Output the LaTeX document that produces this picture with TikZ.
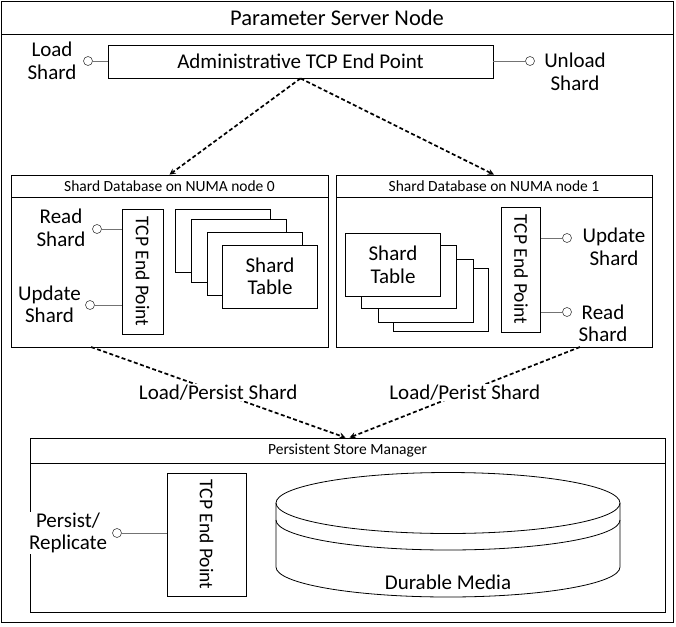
\documentclass[tikz,border=0pt]{standalone}
\usepackage{fontspec}
\setmainfont{Carlito}
\usepackage{tikz}
\usetikzlibrary{calc}

\begin{document}
\begin{tikzpicture}[
        x=1pt, y=-1pt,                % pixel-like coordinates, y down
        >=stealth,
        box/.style={draw, rectangle, inner sep=0pt, line width=0.8pt},
        card/.style={box, fill=white, minimum width=95, minimum height=63},
        big/.style={font=\fontsize{21}{22.5}\selectfont},
        small/.style={font=\fontsize{15.5}{18}\selectfont},
        lbl/.style={big, align=center, inner sep=1pt},
        tcp/.style={box, font=\fontsize{19.5}{22}\selectfont},
        port/.style={circle, draw=black!75, fill=white, minimum size=9, inner sep=0pt, line width=0.6pt},
        wire/.style={draw=black!55, line width=0.9pt},
        flow/.style={->, dash pattern=on 4pt off 2.5pt, line width=1.7pt}
    ]
        \useasboundingbox (0,0) rectangle (676,626);

        % server frame
        \node (psn) [box, minimum width=672, minimum height=621] at (337,311.5) {};
        \node (psnT) [box, minimum width=672, minimum height=33, font=\fontsize{22.5}{26}\selectfont] at (337,17.5) {Parameter Server Node};

        % admin end point
        \node (adm) [box, big, minimum width=385, minimum height=33] at (300.5,61.5) {Administrative TCP End Point};
        \node (pLoad) [port] at (88,61) {};
        \node (pUnload) [port] at (530,61) {};
        \node (tLoad) [lbl] at (52,61) {Load\\Shard};
        \node (tUnload) [lbl] at (575,72) {Unload\\Shard};
        \draw[wire] (pLoad) -- (pLoad -| adm.west);
        \draw[wire] (pUnload) -- (pUnload -| adm.east);

        % NUMA node 0
        \node (dbA) [box, minimum width=317, minimum height=172] at (169.5,261) {};
        \node (dbAT) [box, small, minimum width=317, minimum height=22] at (169.5,186) {Shard Database on NUMA node 0};
        \node (tcpA) [tcp, minimum width=41, minimum height=125] at (142.5,271.5) {\rotatebox{-90}{TCP End Point}};
        \node (rA) [port] at (97,229) {};
        \node (uA) [port] at (90,305) {};
        \node (tRA) [lbl] at (61,228) {Read\\Shard};
        \node (tUA) [lbl] at (49.5,304.5) {Update\\Shard};
        \draw[wire] (rA) -- (rA -| tcpA.west);
        \draw[wire] (uA) -- (uA -| tcpA.west);
        \node (sA1) [card] at (222.5,240.5) {};
        \node (sA2) [card] at (238.5,250.5) {};
        \node (sA3) [card] at (254.5,264) {};
        \node (sA4) [card, lbl, minimum height=63] at (270,276.5) {Shard\\Table};

        % NUMA node 1
        \node (dbB) [box, minimum width=316, minimum height=172] at (494,261) {};
        \node (dbBT) [box, small, minimum width=316, minimum height=22] at (494,186) {Shard Database on NUMA node 1};
        \node (tcpB) [tcp, minimum width=39, minimum height=125] at (521,269.5) {\rotatebox{-90}{TCP End Point}};
        \node (uB) [port] at (567,238) {};
        \node (rB) [port] at (567,312) {};
        \node (tUB) [lbl] at (614,247) {Update\\Shard};
        \node (tRB) [lbl] at (603,323.5) {Read\\Shard};
        \draw[wire] (uB) -- (uB -| tcpB.east);
        \draw[wire] (rB) -- (rB -| tcpB.east);
        \node (sB1) [card] at (440.5,299.5) {};
        \node (sB2) [card] at (425.5,291) {};
        \node (sB3) [card] at (409,277) {};
        \node (sB4) [card, lbl, minimum height=63] at (393,265) {Shard\\Table};

        % store manager
        \node (psm) [box, minimum width=635, minimum height=174] at (347.5,525) {};
        \node (psmT) [box, small, minimum width=635, minimum height=25] at (347.5,450.5) {Persistent Store Manager};
        \node (tcpC) [tcp, minimum width=79, minimum height=123] at (206.5,534.5) {\rotatebox{-90}{TCP End Point}};
        \node (pP) [port] at (117,533) {};
        \node (tP) [lbl, fill=white] at (68,533) {Persist/\\Replicate};
        \draw[wire] (pP) -- (pP -| tcpC.west);

        % durable media
        \draw[line width=0.8pt] (448,503) ellipse (172 and 30.5);
        \draw[line width=0.8pt] (276,520) arc (180:0:172 and 30);
        \draw[line width=0.8pt] (276,503) -- (276,567) arc (180:0:172 and 30) -- (620,503);
        \node (dm) [big] at (448,582) {Durable Media};

        % flows
        \coordinate (oA) at (91,347);
        \coordinate (oB) at (580,347);
        \draw[flow] (adm.south) -- (dbA.north);
        \draw[flow] (adm.south) -- (dbB.north);
        \draw[flow] (oA) -- node[lbl, fill=white, pos=0.5] (lA) {Load/Persist Shard} ([xshift=-2]psm.north);
        \draw[flow] (oB) -- node[lbl, fill=white, pos=0.5] (lB) {Load/Perist Shard} ([xshift=2]psm.north);
    \end{tikzpicture}
\end{document}
